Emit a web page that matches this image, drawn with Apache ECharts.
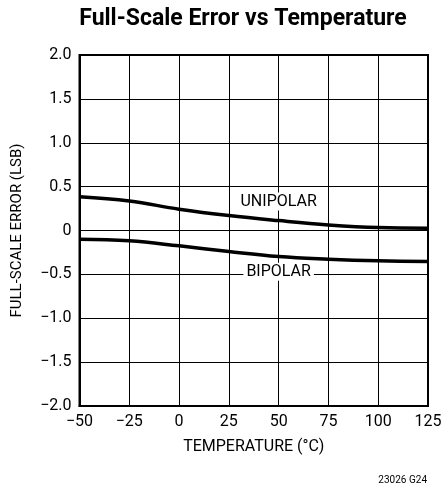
<!DOCTYPE html>
<html><head><meta charset="utf-8">
<script src="https://cdn.jsdelivr.net/npm/echarts@6/dist/echarts.min.js"></script>
<style>html,body{margin:0;padding:0;background:#fff}#c{width:445px;height:492px}</style>
</head><body><div id="c"></div>
<script>
const temps = [-50, -25, 0, 25, 50, 75, 100, 125];
const unipolar = [0.386, 0.337, 0.243, 0.17, 0.113, 0.064, 0.033, 0.026];
const bipolar = [-0.099, -0.118, -0.175, -0.24, -0.297, -0.327, -0.346, -0.354];
const xTicks = [-50, -25, 0, 25, 50, 75, 100, 125];
const yTicks = [-2.0, -1.5, -1.0, -0.5, 0, 0.5, 1.0, 1.5, 2.0];
const FONT = '"Roboto", sans-serif';
const minus = s => String(s).replace('-', '\u2212');
const chart = echarts.init(document.getElementById('c'));
chart.setOption({
  animation: false,
  grid: {left: 79.5, right: 17, top: 55, bottom: 86, show: true, borderColor: '#000', borderWidth: 2},
  xAxis: {type: 'value', min: -50, max: 125, interval: 25,
    name: 'TEMPERATURE (°C)', nameLocation: 'middle', nameGap: 33,
    nameTextStyle: {fontFamily: FONT, fontSize: 16, color: '#000'},
    axisLine: {onZero: false, lineStyle: {color: '#000', width: 2}}, axisTick: {show: false},
    axisLabel: {fontFamily: FONT, fontSize: 16, color: '#000', margin: 8, formatter: v => minus(v)},
    splitLine: {lineStyle: {color: '#000', width: 1}}},
  yAxis: {type: 'value', min: -2, max: 2, interval: 0.5,
    name: 'FULL-SCALE ERROR (LSB)', nameLocation: 'middle', nameGap: 55, nameRotate: 90,
    nameTextStyle: {fontFamily: FONT, fontSize: 15, color: '#000'},
    axisLine: {show: true, onZero: false, lineStyle: {color: '#000', width: 2}}, axisTick: {show: false},
    axisLabel: {fontFamily: FONT, fontSize: 16, color: '#000', margin: 8,
      formatter: v => v === 0 ? '0' : minus(v.toFixed(1))},
    splitLine: {lineStyle: {color: '#000', width: 1}}},
  series: [
    {type: 'line', data: temps.map((t, i) => [t, unipolar[i]]), smooth: 0.4, symbol: 'none',
      lineStyle: {color: '#000', width: 3.5},
      markPoint: {symbol: 'rect', symbolSize: 1, itemStyle: {color: 'transparent'},
        data: [{coord: [50, 0.33], label: {show: true, position: 'inside', formatter: 'UNIPOLAR',
          fontFamily: FONT, fontSize: 16, color: '#000', backgroundColor: '#fff', padding: [1, 3]}}]}},
    {type: 'line', data: temps.map((t, i) => [t, bipolar[i]]), smooth: 0.4, symbol: 'none',
      lineStyle: {color: '#000', width: 3.5},
      markPoint: {symbol: 'rect', symbolSize: 1, itemStyle: {color: 'transparent'},
        data: [{coord: [50, -0.47], label: {show: true, position: 'inside', formatter: 'BIPOLAR',
          fontFamily: FONT, fontSize: 16, color: '#000', backgroundColor: '#fff', padding: [1, 3]}}]}}
  ],
  graphic: [
    {type: 'text', x: 243, y: 19,
      style: {text: 'Full-Scale Error vs Temperature', font: 'bold 23px ' + FONT, fill: '#000',
        textAlign: 'center', textVerticalAlign: 'middle'}},
    {type: 'text', right: 18, top: 475,
      style: {text: '23026 G24', font: '10px ' + FONT, fill: '#000'}}]
});
</script></body></html>
